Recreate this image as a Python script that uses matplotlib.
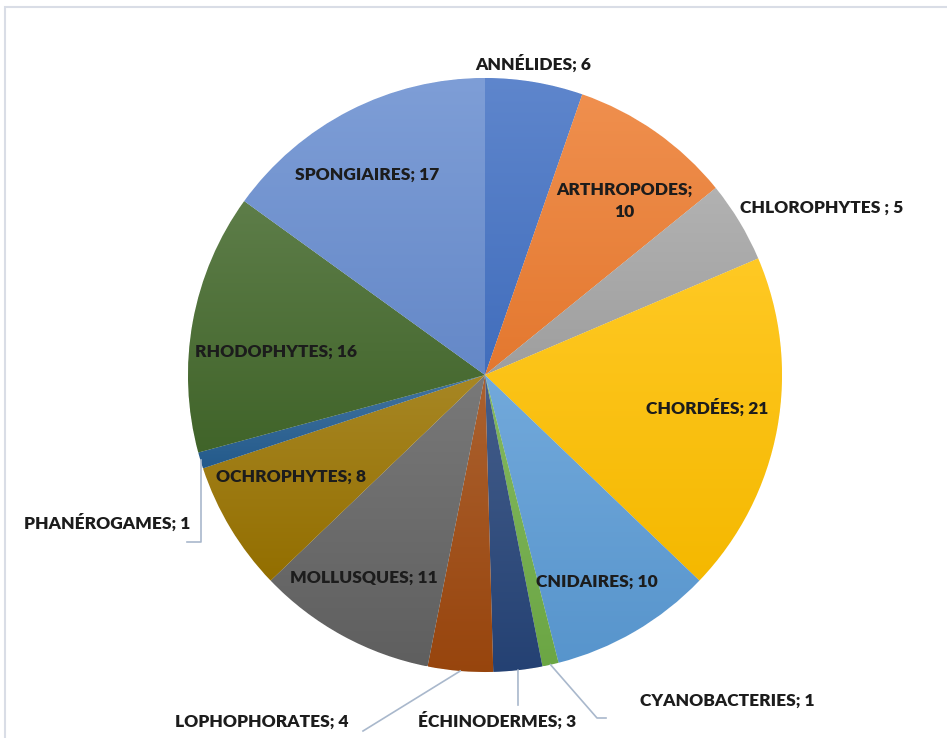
import numpy as np
import matplotlib.pyplot as plt
import matplotlib.colors as mcolors
from matplotlib.patches import Rectangle

# --- Données ---
categories = ["ANNÉLIDES", "ARTHROPODES", "CHLOROPHYTES ", "CHORDÉES", "CNIDAIRES",
              "CYANOBACTERIES", "ÉCHINODERMES", "LOPHOPHORATES", "MOLLUSQUES",
              "OCHROPHYTES", "PHANÉROGAMES", "RHODOPHYTES", "SPONGIAIRES"]
valeurs = [6, 10, 5, 21, 10, 1, 3, 4, 11, 8, 1, 16, 17]
couleurs = ["#4472C4", "#ED7D31", "#A5A5A5", "#FFC000", "#5B9BD5", "#70AD47",
            "#264478", "#9E480E", "#636363", "#997300", "#255E91", "#43682B", "#698ED0"]

# position des étiquettes (pixels, origine en haut à gauche)
pos_etiquettes = [(533, 64), (624, 201), (822, 208), (707, 408), (597, 582),
                  (727, 701), (497, 721), (262, 722), (364, 578), (291, 477),
                  (107, 523), (276, 352), (367, 175)]

W, H = 947, 738
cx, cy, R = 485, 375, 297

fig = plt.figure(figsize=(W / 100, H / 100), dpi=100)
ax = fig.add_axes([0, 0, 1, 1])

wedges, _ = ax.pie(valeurs, colors=couleurs, startangle=90, counterclock=False,
                   center=(cx, H - cy), radius=R, frame=True,
                   wedgeprops=dict(linewidth=0.6, edgecolor="white"))

# dégradé vertical (plus clair en haut)
for w, c in zip(wedges, couleurs):
    base = np.array(mcolors.to_rgb(c))
    haut = base + (1 - base) * 0.14
    bas = base * 0.96
    t = np.linspace(0, 1, 64)[:, None]
    grad = haut[None, :] * (1 - t) + bas[None, :] * t
    img = np.repeat(grad[:, None, :], 2, axis=1)
    bb = w.get_path().get_extents(w.get_patch_transform())
    im = ax.imshow(img, extent=[bb.x0, bb.x1, bb.y0, bb.y1], origin="upper",
                   aspect="auto", interpolation="bilinear", zorder=w.get_zorder())
    im.set_clip_path(w)

ax.set_xlim(0, W)
ax.set_ylim(0, H)
ax.axis("off")

# cadre du graphique
ax.add_patch(Rectangle((5, -20), W + 20, H - 7 + 20, fill=False,
                       edgecolor="#D9DDE6", linewidth=1.5, zorder=0))

police = dict(family="Lato", fontweight="heavy", fontsize=12.5, color="#1c1c1c")

for nom, v, (x, y) in zip(categories, valeurs, pos_etiquettes):
    texte = f"{nom}; {v}"
    if nom == "ARTHROPODES":
        texte = f"{nom};\n{v}"
    ax.text(x, H - y, texte, ha="center", va="center", linespacing=1.45,
            zorder=10, **police)

# lignes de rappel
total = sum(valeurs)
cumul = np.cumsum([0] + valeurs)

def point_bord(i):
    milieu = (cumul[i] + valeurs[i] / 2) / total * 360
    a = np.deg2rad(90 - milieu)
    return cx + R * np.cos(a), H - (cy - R * np.sin(a))

rappels = {
    5: [(597, 718), (606, 718)],
    6: [(518, 705)],
    7: [(363, 731)],
    10: [(200, 542), (187, 542)],
}
for i, pts in rappels.items():
    x0, y0 = point_bord(i)
    xs = [x0] + [p[0] for p in pts]
    ys = [y0] + [H - p[1] for p in pts]
    if i == 10:
        xs[1] = x0
    ax.plot(xs, ys, color="#A9B8CC", linewidth=1.2, zorder=9)

fig.savefig("out.png", dpi=100)
